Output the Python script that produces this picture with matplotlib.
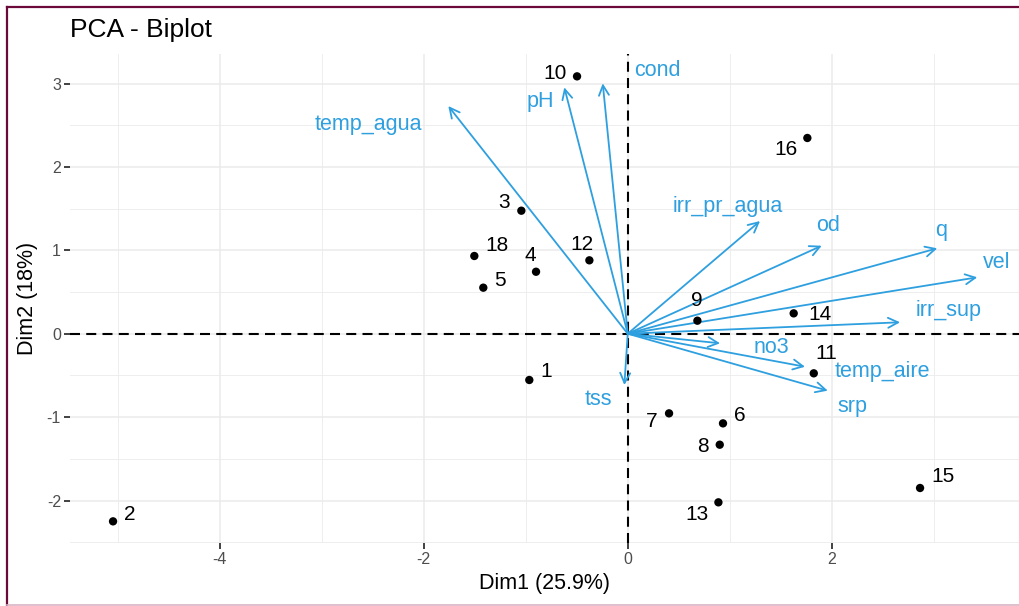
import matplotlib
matplotlib.use("Agg")
import matplotlib.pyplot as plt
from matplotlib.lines import Line2D
from matplotlib.ticker import MultipleLocator
import numpy as np

plt.rcParams['font.family'] = ['Liberation Sans', 'DejaVu Sans']
plt.rcParams['axes.unicode_minus'] = False

# ---------------- data ----------------
ind_labels = ["1", "2", "3", "4", "5", "6", "7", "8", "9", "10", "11", "12",
              "13", "14", "15", "16", "18"]
ind_x = [-0.965, -5.046, -1.043, -0.899, -1.416, 0.934, 0.405, 0.902, 0.683,
         -0.497, 1.824, -0.376, 0.889, 1.627, 2.866, 1.761, -1.504]
ind_y = [-0.555, -2.250, 1.475, 0.743, 0.552, -1.075, -0.955, -1.331, 0.156,
         3.086, -0.475, 0.880, -2.022, 0.244, -1.850, 2.347, 0.932]

var_labels = ["cond", "pH", "temp_agua", "irr_pr_agua", "od", "q", "vel",
              "irr_sup", "no3", "temp_aire", "srp", "tss"]
var_x = [-0.245, -0.622, -1.759, 1.297, 1.902, 3.035, 3.427, 2.670, 0.905,
         1.738, 1.961, -0.033]
var_y = [3.002, 2.954, 2.730, 1.351, 1.055, 1.024, 0.676, 0.137, -0.115,
         -0.396, -0.683, -0.615]

xlabel = "Dim1 (25.9%)"
ylabel = "Dim2 (18%)"
title = "PCA - Biplot"

# ---------------- layout (label offsets, data units) ----------------
ind_dx = [0.164, 0.160, -0.170, -0.059, 0.164, 0.160, -0.167, -0.161, -0.007,
          -0.216, 0.127, -0.072, -0.213, 0.258, 0.228, -0.212, 0.226]
ind_dy = [0.099, 0.088, 0.101, 0.189, 0.084, 0.092, -0.100, -0.024, 0.248,
          0.036, 0.240, 0.192, -0.140, -0.008, 0.135, -0.144, 0.123]
var_dx = [0.532, -0.238, -0.784, -0.317, 0.065, 0.037, 0.191, 0.473, 0.507,
          0.762, 0.245, -0.251]
var_dy = [0.152, -0.172, -0.216, 0.180, 0.240, 0.211, 0.180, 0.147, -0.048,
          -0.060, -0.184, -0.172]

W, H = 1019, 606
fig = plt.figure(figsize=(W / 100, H / 100), dpi=100)
fig.patch.set_facecolor('white')

left_px, right_px, top_px, bottom_px = 70, 1019, 54, 542.7
ax = fig.add_axes([left_px / W, 1 - bottom_px / H,
                   (right_px - left_px) / W, (bottom_px - top_px) / H])

ax.set_xlim(-5.468, 3.836)
ax.set_ylim(-2.506, 3.354)

for s in ax.spines.values():
    s.set_visible(False)

ax.xaxis.set_major_locator(MultipleLocator(2))
ax.xaxis.set_minor_locator(MultipleLocator(1))
ax.yaxis.set_major_locator(MultipleLocator(1))
ax.yaxis.set_minor_locator(MultipleLocator(0.5))
ax.grid(True, which='major', color='#EBEBEB', lw=1.1)
ax.grid(True, which='minor', color='#EBEBEB', lw=0.6)
ax.set_axisbelow(True)
ax.tick_params(which='minor', length=0)
ax.tick_params(which='major', length=4, width=1.3, color='#333333',
               labelcolor='#4D4D4D', labelsize=11.5, pad=2.5)

ax.axhline(0, color='black', lw=1.5, linestyle=(0, (4.8, 3)), zorder=2)
ax.axvline(0, color='black', lw=1.5, linestyle=(0, (4.8, 3)), zorder=2)

blue = '#2E9FDF'
for lab, x, y, dx, dy in zip(var_labels, var_x, var_y, var_dx, var_dy):
    ax.annotate('', xy=(x, y), xytext=(0, 0),
                arrowprops=dict(arrowstyle='->,head_length=0.6,head_width=0.3',
                                color=blue, lw=1.3, shrinkA=0, shrinkB=0,
                                mutation_scale=12), zorder=3)
    ax.text(x + dx, y + dy, lab, color=blue, fontsize=15.5,
            ha='center', va='center', zorder=4)

ax.scatter(ind_x, ind_y, s=36, color='black', zorder=5, edgecolors='none')
for lab, x, y, dx, dy in zip(ind_labels, ind_x, ind_y, ind_dx, ind_dy):
    ax.text(x + dx, y + dy, lab, color='black', fontsize=15,
            ha='center', va='center', zorder=6)

fig.text((left_px + (right_px - left_px) / 2) / W, 1 - 583 / H, xlabel,
         ha='center', va='center', fontsize=15.5, color='black')
fig.text(27 / W, 1 - ((top_px + bottom_px) / 2) / H, ylabel, rotation=90,
         ha='center', va='center', fontsize=15.5, color='black')
fig.text(left_px / W, 1 - 30 / H, title, ha='left', va='center',
         fontsize=19, color='black')

# figure border (maroon)
border = '#6B0A3A'
fig.add_artist(Line2D([7.3 / W, 1.0], [1 - 6.5 / H, 1 - 6.5 / H],
                      transform=fig.transFigure, color=border, lw=1.6))
fig.add_artist(Line2D([7.3 / W, 7.3 / W], [0, 1 - 6.5 / H],
                      transform=fig.transFigure, color=border, lw=1.6))
fig.add_artist(Line2D([7.3 / W, 1.0], [1 - 604.8 / H, 1 - 604.8 / H],
                      transform=fig.transFigure, color='#D8B4C6', lw=1.2))

fig.savefig('out.png', dpi=100)
